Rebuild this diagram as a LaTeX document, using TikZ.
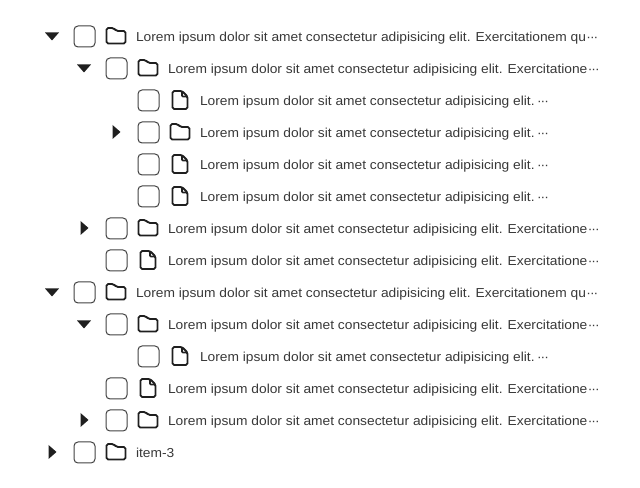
\documentclass[tikz,border=0pt]{standalone}
\usepackage{fontspec}
\setmainfont[FakeStretch=1.06]{Liberation Sans}
\definecolor{ink}{HTML}{1F1F1F}
\definecolor{txt}{HTML}{383838}
\tikzset{x=0.75pt,y=-0.75pt,
  box/.style={draw=ink!85,line width=0.75pt,rounded corners=3pt},
  ic/.style={draw=ink,line width=1.4pt,rounded corners=1.2pt,line join=round},
  tri/.style={fill=ink,draw=none},
  lbl/.style={anchor=base west,inner sep=0pt,outer sep=0pt,text=txt,font=\fontsize{9.75}{12}\selectfont}}
\newcommand{\LA}{Lorem ipsum dolor sit amet consectetur adipisicing elit. Exercitationem qu\dotsmid}
\newcommand{\LB}{Lorem ipsum dolor sit amet consectetur adipisicing elit. Exercitatione\dotsmid}
\newcommand{\LC}{Lorem ipsum dolor sit amet consectetur adipisicing elit.\kern1.5pt\dotsmid}
\newcommand{\dotsmid}{\kern0.3pt·\kern-0.7pt·\kern-0.7pt·}
\newcommand{\arrdown}[2]{\path[tri] (#1-7,#2-3.5) -- (#1+7,#2-3.5) -- (#1,#2+4.5) -- cycle;}
\newcommand{\arrright}[2]{\path[tri] (#1-3.5,#2-7) -- (#1+4.5,#2) -- (#1-3.5,#2+7) -- cycle;}
\newcommand{\chk}[2]{\draw[box] (#1-10.5,#2-10.5) rectangle (#1+10.5,#2+10.5);}
\newcommand{\fold}[2]{\draw[ic] (#1-9.5,#2+7.5) -- (#1-9.5,#2-8) -- (#1-2.5,#2-8) -- (#1+0.5,#2-5) -- (#1+9.5,#2-5) -- (#1+9.5,#2+7.5) -- cycle;}
\newcommand{\fil}[2]{\draw[ic] (#1-7.5,#2+9) -- (#1-7.5,#2-9) -- (#1+2,#2-9) -- (#1+7.5,#2-3.5) -- (#1+7.5,#2+9) -- cycle;
  \draw[ic,rounded corners=0.5pt,line width=1.2pt] (#1+2,#2-9) -- (#1+2,#2-3.5) -- (#1+7.5,#2-3.5);}
% #1 level, #2 row, #3 arrow macro, #4 icon, #5 label, #6 name
\newcommand{\rowitem}[6]{%
  \pgfmathsetmacro{\ox}{32*#1}%
  \pgfmathsetmacro{\oy}{36+32*#2}%
  #3{52+\ox}{\oy}%
  \chk{84.5+\ox}{\oy+0.5}%
  #4{116+\ox}{\oy}%
  \node[lbl] (#6) at (136+\ox,\oy+5.5) {#5};}
\newcommand{\noarr}[2]{}
\begin{document}
\begin{tikzpicture}
\useasboundingbox (0,0) rectangle (640,488);
\rowitem{0}{0}{\arrdown}{\fold}{\LA}{r0}
\rowitem{1}{1}{\arrdown}{\fold}{\LB}{r1}
\rowitem{2}{2}{\noarr}{\fil}{\LC}{r2}
\rowitem{2}{3}{\arrright}{\fold}{\LC}{r3}
\rowitem{2}{4}{\noarr}{\fil}{\LC}{r4}
\rowitem{2}{5}{\noarr}{\fil}{\LC}{r5}
\rowitem{1}{6}{\arrright}{\fold}{\LB}{r6}
\rowitem{1}{7}{\noarr}{\fil}{\LB}{r7}
\rowitem{0}{8}{\arrdown}{\fold}{\LA}{r8}
\rowitem{1}{9}{\arrdown}{\fold}{\LB}{r9}
\rowitem{2}{10}{\noarr}{\fil}{\LC}{r10}
\rowitem{1}{11}{\noarr}{\fil}{\LB}{r11}
\rowitem{1}{12}{\arrright}{\fold}{\LB}{r12}
\rowitem{0}{13}{\arrright}{\fold}{item-3}{r13}
\end{tikzpicture}
\end{document}
